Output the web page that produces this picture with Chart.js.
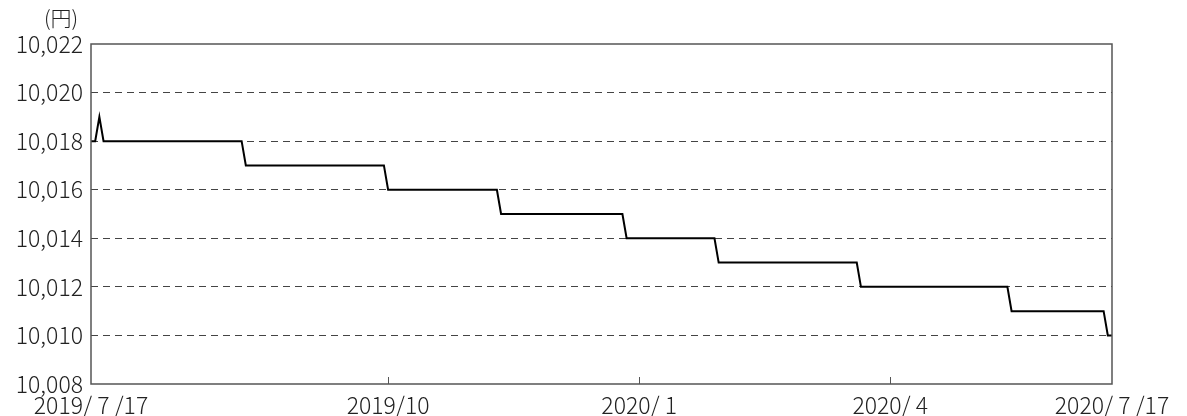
<!DOCTYPE html>
<html>
<head>
<meta charset="utf-8">
<script src="https://cdn.jsdelivr.net/npm/chart.js@4"></script>
<style>
  body { margin: 0; background: #fff; }
  #wrap { width: 1187px; height: 416px; position: relative; }
</style>
</head>
<body>
<div id="wrap"><canvas id="nav-chart"></canvas></div>
<script>
// business-day index from 2019/7/17 and the price on that day (step points only)
var dayIndex = [0, 1, 2, 3, 36, 37, 70, 71, 97, 98, 127, 128, 149, 150, 183, 184, 219, 220, 242, 243, 244];
var navPrice = [10018, 10018, 10019, 10018, 10018, 10017, 10017, 10016, 10016, 10015, 10015, 10014, 10014, 10013, 10013, 10012, 10012, 10011, 10011, 10010, 10010];

// x axis ticks
var tickIndex = [0, 71, 131, 191, 244];
var tickLabels = ['2019/ 7 /17', '2019/10', '2020/ 1', '2020/ 4', '2020/ 7 /17'];

// y axis
var yMin = 10008, yMax = 10022, yStep = 2;
var yUnit = '(円)';

var fontFamily = '"Noto Sans CJK JP", "Noto Sans", sans-serif';

var points = dayIndex.map(function (d, i) { return { x: d, y: navPrice[i] }; });

// frame, inward x ticks and unit label
var framePlugin = {
    id: 'frame',
    afterDraw: function (chart) {
        var ctx = chart.ctx;
        var a = chart.chartArea;
        var xs = chart.scales.x;
        ctx.save();
        ctx.strokeStyle = '#555';
        ctx.lineWidth = 1.5;
        ctx.strokeRect(a.left, a.top, a.right - a.left, a.bottom - a.top);
        ctx.lineWidth = 1;
        ctx.beginPath();
        tickIndex.forEach(function (t) {
            if (t === tickIndex[0] || t === tickIndex[tickIndex.length - 1]) return;
            var px = Math.round(xs.getPixelForValue(t)) + 0.5;
            ctx.moveTo(px, a.bottom);
            ctx.lineTo(px, a.bottom - 7);
        });
        ctx.stroke();
        ctx.fillStyle = '#222';
        ctx.font = '300 21px ' + fontFamily;
        ctx.textAlign = 'center';
        ctx.textBaseline = 'middle';
        ctx.fillText(yUnit, a.left - 30, a.top - 26);
        ctx.restore();
    }
};

new Chart(document.getElementById('nav-chart'), {
    type: 'line',
    data: {
        datasets: [{
            data: points,
            borderColor: '#000',
            borderWidth: 2,
            pointRadius: 0,
            tension: 0,
            fill: false
        }]
    },
    options: {
        responsive: true,
        maintainAspectRatio: false,
        animation: false,
        layout: { padding: { top: 44, right: 75, left: 0, bottom: 0 } },
        plugins: { legend: { display: false }, tooltip: { enabled: false } },
        scales: {
            x: {
                type: 'linear',
                min: tickIndex[0],
                max: tickIndex[tickIndex.length - 1],
                afterBuildTicks: function (scale) {
                    scale.ticks = tickIndex.map(function (v) { return { value: v }; });
                },
                afterFit: function (scale) { scale.height = 32; },
                grid: { display: false, drawTicks: false },
                border: { display: false },
                ticks: {
                    autoSkip: false,
                    maxRotation: 0,
                    padding: 7,
                    color: '#222',
                    font: { family: fontFamily, size: 23, weight: 300 },
                    callback: function (v) {
                        var i = tickIndex.indexOf(v);
                        return i >= 0 ? tickLabels[i] : '';
                    }
                }
            },
            y: {
                min: yMin,
                max: yMax,
                afterFit: function (scale) { scale.width = 91; },
                grid: {
                    drawTicks: false,
                    color: function (c) {
                        var v = c.tick.value;
                        return (v === yMin || v === yMax) ? 'rgba(0,0,0,0)' : '#444';
                    },
                    lineWidth: 1
                },
                border: { display: false, dash: [7, 5] },
                ticks: {
                    stepSize: yStep,
                    padding: 8,
                    color: '#222',
                    font: { family: fontFamily, size: 23, weight: 300 },
                    callback: function (v) { return v.toLocaleString('en-US'); }
                }
            }
        }
    },
    plugins: [framePlugin]
});
</script>
</body>
</html>
